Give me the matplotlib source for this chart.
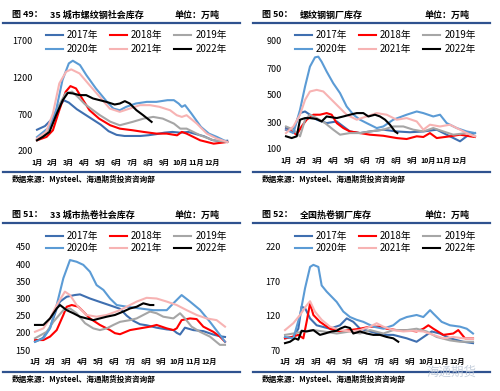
import matplotlib
matplotlib.use('Agg')
import matplotlib.pyplot as plt

plt.rcParams['font.family'] = ['Noto Sans CJK SC', 'DejaVu Sans']

W, H = 500, 391
fig = plt.figure(figsize=(5, 3.91), dpi=100)

years = ['2017年', '2018年', '2019年', '2020年', '2021年', '2022年']
colors = ['#3F6FB0', '#FF0000', '#A6A6A6', '#5B9BD5', '#F7B3B3', '#000000']
month_labels = ['1月', '2月', '3月', '4月', '5月', '6月', '7月', '8月', '9月', '10月', '11月', '12月']

# ---------- Panel 49: 35城市螺纹钢社会库存 ----------
p1_m17 = [0, 0.5, 1.0, 1.4, 1.7, 2.0, 2.5, 3.0, 3.5, 4.0, 4.5, 5.0, 5.5, 6.0, 6.5, 7.0, 7.5, 8.0, 8.5, 9.0, 9.5, 10.0, 10.5, 11.0, 11.5, 11.95]
p1_v17 = [490, 540, 650, 820, 890, 860, 770, 700, 630, 560, 470, 420, 405, 405, 405, 415, 430, 450, 460, 450, 460, 430, 400, 350, 330, 340]
p1_m18 = [0, 0.6, 1.0, 1.4, 1.8, 2.1, 2.45, 2.9, 3.3, 3.9, 4.6, 5.2, 6.0, 6.7, 7.5, 8.15, 8.8, 9.1, 9.4, 10.25, 11.1, 11.95]
p1_v18 = [346, 392, 483, 756, 1007, 1085, 1053, 893, 756, 642, 551, 505, 483, 460, 437, 437, 414, 460, 437, 346, 300, 323]
p1_m19 = [0, 0.6, 1.2, 1.8, 2.2, 2.6, 3.0, 3.5, 3.94, 4.6, 5.2, 6.0, 6.7, 7.3, 7.9, 8.6, 9.0, 9.4, 10.25, 11.1, 11.95]
p1_v19 = [346, 437, 756, 985, 1010, 930, 840, 760, 690, 600, 551, 597, 642, 665, 642, 574, 505, 505, 414, 346, 323]
p1_m20 = [0, 0.8, 1.2, 1.6, 2.0, 2.25, 2.7, 3.1, 3.7, 4.4, 4.8, 5.2, 5.6, 6.2, 6.9, 7.5, 8.2, 8.6, 8.9, 9.1, 9.3, 9.7, 10.3, 10.8, 11.3, 11.95]
p1_v20 = [390, 530, 756, 1167, 1395, 1431, 1372, 1235, 1053, 870, 779, 756, 802, 847, 870, 870, 893, 893, 847, 802, 825, 711, 529, 437, 392, 323]
p1_m21 = [0, 0.57, 1.0, 1.4, 1.83, 2.15, 2.67, 3.3, 3.94, 4.57, 5.2, 5.83, 6.46, 7.1, 7.7, 8.36, 8.78, 9.1, 9.4, 10.04, 10.67, 11.3, 11.95]
p1_v21 = [369, 460, 711, 1121, 1281, 1313, 1258, 1098, 939, 779, 734, 779, 825, 825, 802, 756, 688, 665, 688, 574, 437, 369, 323]
p1_m22 = [0, 0.36, 0.78, 1.2, 1.62, 1.94, 2.25, 2.67, 3.09, 3.52, 3.94, 4.36, 4.88, 5.2, 5.52, 5.83, 6.25, 6.67, 7.2]
p1_v22 = [346, 392, 460, 688, 893, 993, 985, 962, 962, 916, 893, 870, 834, 847, 880, 847, 756, 688, 597]

# ---------- Panel 50: 螺纹钢钢厂库存 ----------
p2_m17 = [0, 0.47, 0.89, 1.21, 1.52, 1.95, 2.58, 3.22, 3.64, 4.06, 4.7, 5.33, 6.18, 7.03, 7.87, 8.72, 9.57, 10.41, 11.05, 11.47, 12.0]
p2_v17 = [255, 243, 366, 378, 354, 317, 292, 304, 267, 230, 218, 230, 243, 230, 224, 230, 243, 194, 157, 194, 218]
p2_m18 = [0, 0.36, 0.68, 0.99, 1.31, 1.74, 2.16, 2.58, 2.9, 3.22, 3.64, 4.06, 4.7, 5.33, 6.18, 7.03, 7.66, 8.3, 8.72, 9.14, 9.57, 10.41, 11.05, 11.68, 12.0]
p2_v18 = [243, 230, 206, 267, 317, 354, 354, 366, 354, 292, 255, 230, 218, 206, 198, 181, 174, 194, 189, 218, 181, 194, 206, 194, 189]
p2_m19 = [0, 0.47, 0.89, 1.21, 1.52, 1.95, 2.48, 3.0, 3.43, 4.06, 4.7, 5.33, 6.18, 6.81, 7.45, 8.08, 8.72, 9.35, 9.99, 10.62, 11.47, 12.0]
p2_v19 = [267, 243, 194, 317, 354, 329, 292, 243, 206, 218, 218, 230, 243, 267, 267, 243, 230, 255, 230, 206, 218, 194]
p2_m20 = [0, 0.47, 0.89, 1.21, 1.52, 1.84, 2.05, 2.26, 2.58, 3.0, 3.43, 3.85, 4.28, 4.7, 5.12, 5.76, 6.18, 6.81, 7.66, 8.3, 8.72, 9.35, 9.78, 10.2, 10.84, 11.47, 12.0]
p2_v20 = [243, 218, 390, 563, 710, 779, 784, 747, 674, 587, 514, 415, 354, 317, 292, 255, 267, 317, 354, 378, 366, 341, 354, 292, 255, 230, 218]
p2_m21 = [0, 0.47, 0.89, 1.21, 1.52, 1.95, 2.37, 2.79, 3.22, 3.85, 4.49, 5.12, 5.76, 6.39, 7.03, 7.66, 8.3, 8.72, 9.14, 9.78, 10.41, 11.05, 11.68, 12.0]
p2_v21 = [218, 267, 354, 464, 526, 538, 526, 477, 427, 354, 317, 341, 366, 354, 317, 329, 304, 243, 280, 267, 280, 243, 206, 194]
p2_m22 = [0, 0.36, 0.68, 0.89, 1.21, 1.52, 1.95, 2.26, 2.58, 3.22, 3.64, 4.06, 4.49, 4.91, 5.23, 5.65, 5.97, 6.29, 6.6, 6.92, 7.07]
p2_v22 = [194, 181, 194, 317, 329, 329, 322, 304, 341, 329, 341, 354, 366, 366, 341, 354, 341, 317, 280, 230, 218]

# ---------- Panel 51: 33城市热卷社会库存 ----------
p3_m17 = [0, 0.5, 0.95, 1.37, 1.58, 2.0, 2.5, 2.84, 3.47, 4.1, 4.74, 5.37, 5.79, 6.21, 6.63, 7.05, 7.68, 8.32, 8.74, 8.95, 9.16, 9.47, 10.0, 10.63, 11.26, 11.68, 12.0]
p3_v17 = [174, 185, 215, 270, 291, 305, 310, 312, 300, 290, 280, 270, 250, 235, 225, 222, 215, 210, 208, 200, 195, 215, 208, 205, 195, 190, 188]
p3_m18 = [0, 0.53, 0.95, 1.37, 1.79, 2.0, 2.32, 2.74, 3.05, 3.47, 4.1, 4.74, 5.05, 5.37, 6.0, 6.63, 7.26, 7.68, 8.32, 8.74, 8.95, 9.26, 9.79, 10.21, 10.63, 11.26, 11.68, 12.0]
p3_v18 = [179, 179, 189, 208, 252, 276, 281, 276, 262, 242, 223, 208, 199, 196, 208, 213, 218, 223, 213, 208, 213, 237, 242, 240, 218, 203, 189, 174]
p3_m19 = [0, 0.74, 1.16, 1.79, 2.21, 2.63, 3.16, 3.68, 4.1, 4.53, 4.95, 5.37, 6.0, 6.42, 6.84, 7.26, 7.68, 8.1, 8.74, 9.16, 9.47, 9.89, 10.42, 11.05, 11.68, 12.0]
p3_v19 = [184, 203, 232, 266, 271, 257, 228, 213, 208, 213, 223, 232, 237, 242, 252, 262, 257, 247, 242, 257, 242, 218, 203, 189, 165, 165]
p3_m20 = [0, 0.53, 0.95, 1.37, 1.79, 2.21, 2.63, 3.05, 3.47, 3.89, 4.32, 4.74, 5.16, 5.79, 6.63, 7.47, 8.32, 8.74, 9.26, 9.79, 10.42, 11.05, 11.68, 12.0]
p3_v20 = [174, 184, 213, 281, 359, 412, 407, 398, 378, 339, 325, 300, 281, 276, 271, 266, 266, 286, 310, 291, 267, 232, 194, 174]
p3_m21 = [0, 0.53, 0.95, 1.37, 1.89, 2.21, 2.63, 3.26, 3.89, 4.53, 5.37, 6.0, 6.42, 7.05, 7.68, 8.32, 8.95, 9.58, 10.21, 10.84, 11.47, 12.0]
p3_v21 = [203, 213, 242, 281, 320, 310, 281, 252, 247, 252, 266, 281, 291, 302, 300, 291, 281, 266, 252, 242, 237, 218]
p3_m22 = [0, 0.53, 0.95, 1.37, 1.58, 2.0, 2.42, 2.84, 3.26, 3.68, 4.1, 4.53, 5.05, 5.58, 6.0, 6.42, 6.84, 7.26, 7.47]
p3_v22 = [223, 223, 242, 271, 281, 266, 257, 247, 242, 237, 242, 247, 252, 262, 271, 276, 286, 281, 281]

# ---------- Panel 52: 全国热卷钢厂库存 ----------
p4_m17 = [0, 0.53, 0.85, 1.06, 1.28, 1.6, 2.02, 2.87, 3.51, 3.94, 4.36, 4.79, 5.43, 6.28, 6.91, 7.77, 8.4, 9.04, 9.36, 9.89, 10.53, 11.38, 12.0]
p4_v17 = [87, 89, 101, 133, 131, 116, 106, 101, 106, 116, 111, 101, 97, 92, 92, 87, 82, 92, 97, 94, 87, 82, 80]
p4_m18 = [0, 0.43, 0.85, 1.17, 1.38, 1.6, 1.81, 2.23, 2.87, 3.51, 4.15, 4.79, 5.43, 6.06, 6.49, 7.13, 7.77, 8.4, 8.83, 9.15, 9.47, 10.11, 10.74, 11.06, 11.49, 12.0]
p4_v18 = [87, 89, 92, 87, 111, 138, 121, 111, 101, 97, 99, 101, 104, 104, 101, 99, 99, 97, 101, 106, 101, 92, 94, 99, 87, 87]
p4_m19 = [0, 0.53, 1.17, 1.81, 2.45, 3.3, 4.15, 4.79, 5.43, 6.28, 6.91, 7.77, 8.4, 9.04, 9.68, 10.53, 11.17, 12.0]
p4_v19 = [92, 94, 97, 99, 97, 94, 97, 94, 99, 94, 99, 99, 101, 97, 89, 84, 82, 82]
p4_m20 = [0, 0.53, 0.96, 1.28, 1.6, 1.81, 2.13, 2.34, 2.66, 3.3, 3.72, 4.15, 4.57, 5.0, 5.64, 6.28, 6.91, 7.34, 7.77, 8.4, 8.83, 9.26, 9.47, 10.0, 10.53, 11.17, 11.6, 12.0]
p4_v20 = [89, 87, 121, 160, 191, 194, 191, 164, 155, 140, 126, 118, 114, 111, 104, 101, 106, 114, 118, 121, 118, 128, 123, 111, 106, 104, 101, 94]
p4_m21 = [0, 0.53, 0.96, 1.38, 1.6, 1.91, 2.34, 2.87, 3.51, 4.15, 4.79, 5.43, 5.85, 6.28, 6.91, 7.55, 8.19, 8.83, 9.47, 10.11, 10.74, 11.38, 12.0]
p4_v21 = [99, 109, 121, 135, 141, 126, 114, 104, 99, 97, 99, 104, 109, 104, 99, 97, 98, 97, 92, 87, 89, 87, 87]
p4_m22 = [0, 0.32, 0.64, 0.85, 1.06, 1.38, 1.81, 2.23, 2.55, 2.98, 3.3, 3.51, 3.83, 4.15, 4.36, 4.79, 5.21, 5.64, 6.06, 6.49, 6.91, 7.23]
p4_v22 = [80, 82, 87, 85, 98, 97, 99, 92, 94, 97, 98, 101, 104, 102, 94, 97, 94, 92, 92, 89, 87, 82]

p1_yticks = [200, 700, 1200, 1700]
p2_yticks = [100, 300, 500, 700, 900]
p3_yticks = [150, 200, 250, 300, 350, 400, 450]
p4_yticks = [70, 120, 170, 220]

panels = [
    dict(num='图 49：', name='35 城市螺纹钢社会库存', ox=0, oy=0,
         rect=(37, 41, 228, 151), yt=p1_yticks, leg_y=30, leg_x=46, lsp=0.45,
         series=[(p1_m17, p1_v17), (p1_m18, p1_v18), (p1_m19, p1_v19), (p1_m20, p1_v20), (p1_m21, p1_v21), (p1_m22, p1_v22)]),
    dict(num='图 50：', name='螺纹钢钢厂库存', ox=250, oy=0,
         rect=(286, 41, 475, 149), yt=p2_yticks, leg_y=30, leg_x=295, lsp=0.45,
         series=[(p2_m17, p2_v17), (p2_m18, p2_v18), (p2_m19, p2_v19), (p2_m20, p2_v20), (p2_m21, p2_v21), (p2_m22, p2_v22)]),
    dict(num='图 51：', name='33 城市热卷社会库存', ox=0, oy=200,
         rect=(35, 247, 225, 350), yt=p3_yticks, leg_y=231, leg_x=46, lsp=0.2,
         series=[(p3_m17, p3_v17), (p3_m18, p3_v18), (p3_m19, p3_v19), (p3_m20, p3_v20), (p3_m21, p3_v21), (p3_m22, p3_v22)]),
    dict(num='图 52：', name='全国热卷钢厂库存', ox=250, oy=200,
         rect=(285, 247, 473, 350), yt=p4_yticks, leg_y=231, leg_x=295, lsp=0.2,
         series=[(p4_m17, p4_v17), (p4_m18, p4_v18), (p4_m19, p4_v19), (p4_m20, p4_v20), (p4_m21, p4_v21), (p4_m22, p4_v22)]),
]

rule_color = '#2F528F'


def fx(x):
    return x / W


def fy(y):
    return 1 - y / H


for p in panels:
    ox, oy = p['ox'], p['oy']
    x0, y0, x1, y1 = p['rect']
    ax = fig.add_axes([fx(x0), fy(y1), (x1 - x0) / W, (y1 - y0) / H])
    handles = []
    for (m, v), c, lab in zip(p['series'], colors, years):
        ln, = ax.plot(m, v, color=c, lw=1.5, label=lab, clip_on=False, solid_joinstyle='round')
        handles.append(ln)
    ax.set_xlim(0, 12)
    ax.set_ylim(p['yt'][0], p['yt'][-1])
    ax.set_yticks(p['yt'])
    ax.set_yticklabels([str(t) for t in p['yt']], fontsize=6.5)
    ax.set_xticks(range(12))
    ax.set_xticklabels(month_labels, fontsize=5.1, fontweight='bold')
    ax.tick_params(length=0, pad=3)
    ax.tick_params(axis='x', pad=6)
    for s in ax.spines.values():
        s.set_visible(False)
    ax.patch.set_alpha(0)
    order = [0, 3, 1, 4, 2, 5]
    ax.legend([handles[i] for i in order], [years[i] for i in order],
              loc='upper left', bbox_to_anchor=(fx(p['leg_x']), fy(p['leg_y'])),
              bbox_transform=fig.transFigure, ncol=3, frameon=False, fontsize=7,
              handlelength=1.75, handletextpad=0.4, columnspacing=1.2,
              labelspacing=p['lsp'], borderpad=0, borderaxespad=0)
    # title row
    fig.text(fx(ox + 12), fy(oy + 15), p['num'], fontsize=6.5, fontweight='bold', va='center')
    fig.text(fx(ox + 50), fy(oy + 15), p['name'], fontsize=6.5, fontweight='bold', va='center')
    fig.text(fx(ox + 175), fy(oy + 15), '单位：万吨', fontsize=6.5, fontweight='bold', va='center')
    fig.add_artist(plt.Line2D([fx(ox + 3), fx(ox + 240)], [fy(oy + 23), fy(oy + 23)],
                              color=rule_color, lw=1.6, transform=fig.transFigure))
    fig.add_artist(plt.Line2D([fx(ox + 3), fx(ox + 240)], [fy(oy + 172), fy(oy + 172)],
                              color=rule_color, lw=1.6, transform=fig.transFigure))
    fig.text(fx(ox + 12), fy(oy + 179), '数据来源：Mysteel、海通期货投资咨询部', fontsize=5.5,
             fontweight='bold', va='center')

# watermark
fig.text(fx(452), fy(372), '海通期货', fontsize=9, color='#B8C4D4', alpha=0.8,
         ha='center', va='center')

fig.savefig('out.png', dpi=100)
